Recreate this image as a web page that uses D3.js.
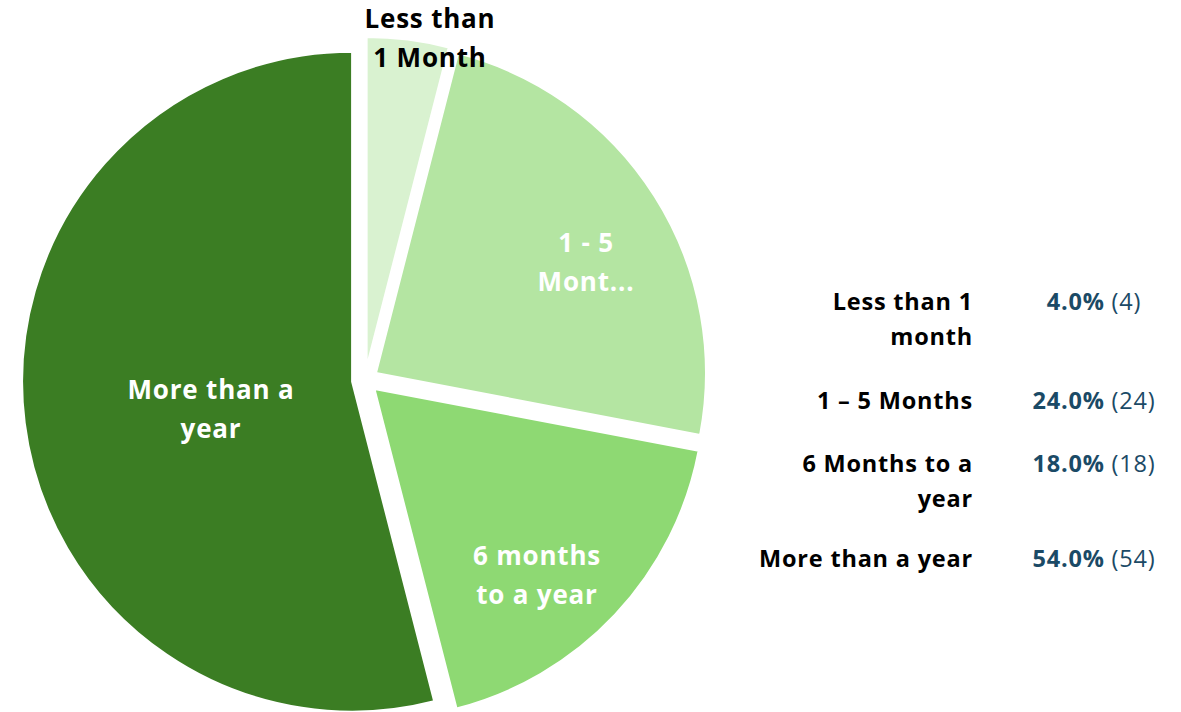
<!DOCTYPE html>
<html><head><meta charset="utf-8">
<script src="https://cdn.jsdelivr.net/npm/d3@7/dist/d3.min.js"></script>
<style>html,body{margin:0;padding:0;background:#fff;}svg{display:block;}</style>
</head><body>
<svg id="c" width="1181" height="712"></svg>
<script>
const categories = ["Less than 1 month","1 – 5 Months","6 Months to a year","More than a year"];
const values = [4, 24, 18, 54];
const colors = ["#d9f2d0","#b4e5a2","#8ed973","#3b7d23"];
const sliceLabels = [["Less than","1 Month"],["1 - 5","Mont..."],["6 months","to a year"],["More than a","year"]];
const legendLabels = [["Less than 1","month"],["1 – 5 Months"],["6 Months to a","year"],["More than a year"]];

const svg = d3.select("#c");
const font = "'Open Sans', sans-serif";
const cx = 365, cy = 380, r = 330, explode = 13;
const total = d3.sum(values);
const pie = d3.pie().sort(null).value(d => d);
const arcs = pie(values);
const arc = d3.arc().innerRadius(0).outerRadius(r);
const g = svg.append("g").attr("transform", `translate(${cx},${cy})`);

arcs.forEach((a, i) => {
  const mid = (a.startAngle + a.endAngle) / 2;
  const dx = Math.sin(mid) * explode, dy = -Math.cos(mid) * explode;
  g.append("path").attr("d", arc(a)).attr("fill", colors[i])
    .attr("stroke", "#fff").attr("stroke-width", 2)
    .attr("transform", `translate(${dx},${dy})`);
});

// slice labels
const labelPos = [
  {x: 430, y: 28, fill: "#000"},
  {x: 586, y: 252, fill: "#fff"},
  {x: 537, y: 565, fill: "#fff"},
  {x: 211, y: 399, fill: "#fff"}
];
sliceLabels.forEach((lines, i) => {
  const p = labelPos[i];
  const t = svg.append("text").attr("text-anchor", "middle")
    .attr("font-family", font).attr("font-weight", 700).attr("font-size", 26)
    .attr("letter-spacing", 0.8).attr("fill", p.fill);
  lines.forEach((l, j) => t.append("tspan").attr("x", p.x).attr("y", p.y + j * 39).text(l));
});

// legend table
const rowY = [310, 409, 472, 567];
categories.forEach((c, i) => {
  const t = svg.append("text").attr("text-anchor", "end")
    .attr("font-family", font).attr("font-weight", 700).attr("font-size", 23.5)
    .attr("letter-spacing", 0.8).attr("fill", "#000");
  legendLabels[i].forEach((l, j) => t.append("tspan").attr("x", 973).attr("y", rowY[i] + j * 35).text(l));
  const v = svg.append("text").attr("text-anchor", "middle").attr("x", 1094).attr("y", rowY[i])
    .attr("font-family", font).attr("font-size", 23.5).attr("letter-spacing", 0.8).attr("fill", "#1b4a66");
  v.append("tspan").attr("font-weight", 700).text((values[i] / total * 100).toFixed(1) + "%");
  v.append("tspan").attr("font-weight", 400).text(" (" + values[i] + ")");
});
</script>
</body></html>
